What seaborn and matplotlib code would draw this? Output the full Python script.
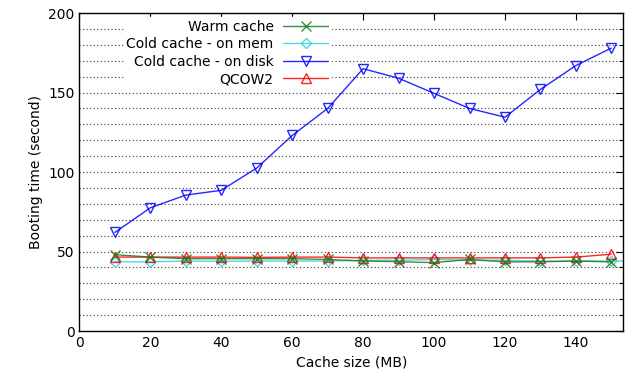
import pandas as pd
import matplotlib
matplotlib.use("Agg")
import matplotlib.pyplot as plt
import seaborn as sns
from matplotlib.ticker import MultipleLocator

# cache sizes (MB)
cache_mb = [10, 20, 30, 40, 50, 60, 70, 80, 90, 100, 110, 120, 130, 140, 150]

warm_cache = [48, 46.5, 45.5, 45.5, 45.5, 45.5, 45, 44, 43.6, 43, 45, 43.5, 43.5, 44, 43.5]
cold_mem = [43.6, 43.5, 44, 43.8, 44, 44, 44, 44.5, 44.5, 45, 44.5, 44.5, 44, 44, 44]
cold_disk = [62, 77.5, 85.5, 88.5, 102.5, 123, 140, 165, 159, 149.5, 140, 134.5, 152, 167, 178]
qcow2 = [46.5, 46.5, 46.5, 46.5, 46.3, 46.5, 46.5, 46, 46, 46, 46, 46, 46, 46.5, 48.3]

# cold mem line runs past the right edge
cold_mem_extra_x = 160
cold_mem_extra_y = 44

sns.set_style("white", {"text.color": "black", "axes.labelcolor": "black",
                        "xtick.color": "black", "ytick.color": "black",
                        "axes.edgecolor": "black"})
plt.rcParams["font.family"] = ["DejaVu Sans"]
plt.rcParams["font.size"] = 10

fig = plt.figure(figsize=(6.25, 3.84), dpi=100)
ax = fig.add_axes([0.127, 0.138, 0.870, 0.828])

series = [
    ("Warm cache", warm_cache, "#1a7a1a", "x", 7, 4),
    ("Cold cache - on mem", cold_mem, "#30d0e0", "D", 5, 2),
    ("Cold cache - on disk", cold_disk, "#0000ff", "v", 6.5, 1),
    ("QCOW2", qcow2, "#ff0000", "^", 6.5, 3),
]

for name, vals, col, mk, ms, z in series:
    xs = list(cache_mb)
    ys = list(vals)
    if name == "Cold cache - on mem":
        xs.append(cold_mem_extra_x)
        ys.append(cold_mem_extra_y)
    df = pd.DataFrame({"x": xs, "y": ys})
    sns.lineplot(data=df, x="x", y="y", ax=ax, color=col, label=name,
                 marker=mk, markersize=ms,
                 markerfacecolor="none", markeredgecolor=col,
                 markeredgewidth=1.0, linewidth=1.0, alpha=0.85, zorder=z)

ax.set_xlim(0, 153.3)
ax.set_ylim(0, 200)
ax.xaxis.set_major_locator(MultipleLocator(20))
ax.yaxis.set_major_locator(MultipleLocator(50))
ax.yaxis.set_minor_locator(MultipleLocator(10))

ax.grid(True, axis="y", which="both", linestyle=(0, (1, 2.2)), color="#333333",
        linewidth=0.8)
ax.set_axisbelow(True)

ax.tick_params(which="both", direction="in", top=True, right=True, color="black")
ax.tick_params(which="major", length=5, width=0.8)
ax.tick_params(which="minor", length=3, width=0.8)
ax.tick_params(axis="x", which="minor", top=False, bottom=False)
for sp in ax.spines.values():
    sp.set_color("black")
    sp.set_linewidth(1.0)

ax.set_xlabel("Cache size (MB)")
ax.set_ylabel("Booting time (second)")

leg = ax.legend(loc="upper right", bbox_to_anchor=(0.462, 0.988), markerfirst=False,
                frameon=True, fancybox=False, framealpha=1.0, edgecolor="white",
                handlelength=3.2, handletextpad=0.7, labelspacing=0.25,
                borderpad=0.2, borderaxespad=0.0, fontsize=10)
# right-align the label rows like gnuplot's key
for column in leg._legend_handle_box.get_children():
    column.align = "right"
leg.set_zorder(0.5)

fig.savefig("out.png", dpi=100)
